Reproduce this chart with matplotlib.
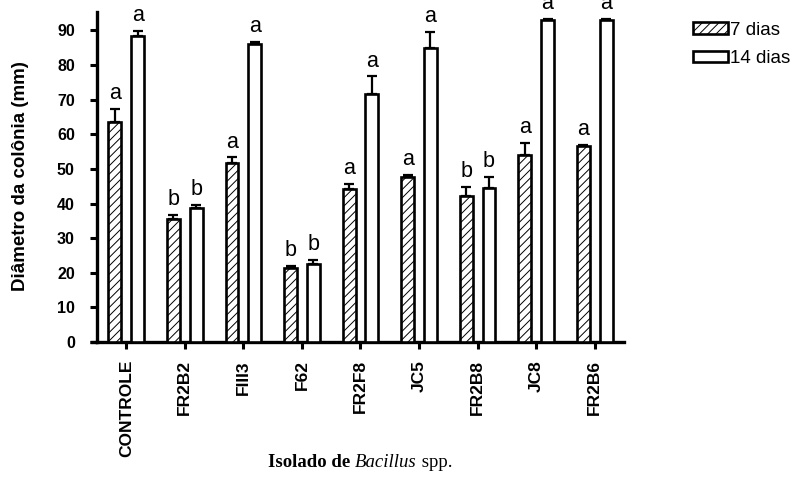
import numpy as np
import matplotlib
matplotlib.use('Agg')
import matplotlib.pyplot as plt

# colony diameter (mm)
isolados = ['CONTROLE', 'FR2B2', 'FIII3', 'F62', 'FR2F8', 'JC5', 'FR2B8', 'JC8', 'FR2B6']
dias7 = [63.6, 35.6, 51.6, 21.4, 44.1, 47.7, 42.3, 54.0, 56.5]
err7 = [3.6, 1.2, 1.7, 0.5, 1.5, 0.5, 2.6, 3.6, 0.3]
dias14 = [88.3, 38.7, 86.2, 22.5, 71.7, 84.9, 44.4, 93.1, 92.9]
err14 = [1.6, 1.0, 0.5, 1.3, 5.0, 4.7, 3.3, 0.3, 0.4]
letras7 = ['a', 'b', 'a', 'b', 'a', 'a', 'b', 'a', 'a']
letras14 = ['a', 'b', 'a', 'b', 'a', 'a', 'b', 'a', 'a']

plt.rcParams['font.family'] = 'Liberation Sans'
plt.rcParams['hatch.linewidth'] = 0.7

fig = plt.figure(figsize=(8.07, 4.79), dpi=100)
ax = fig.add_axes([0.1202, 0.286, 0.653, 0.6896])

x = np.arange(len(isolados))
w = 0.22
d = 0.195
lw = 1.9

ax.bar(x - d, dias7, w, color='white', edgecolor='black', hatch='////',
       linewidth=lw, label='7 dias', zorder=3)
ax.bar(x + d, dias14, w, color='white', edgecolor='black',
       linewidth=lw, label='14 dias', zorder=3)

ax.errorbar(x - d, dias7, yerr=[np.zeros(len(x)), err7], fmt='none',
            ecolor='black', elinewidth=1.6, capsize=3.5, capthick=1.6, zorder=2)
ax.errorbar(x + d, dias14, yerr=[np.zeros(len(x)), err14], fmt='none',
            ecolor='black', elinewidth=1.6, capsize=3.5, capthick=1.6, zorder=2)

for i in range(len(x)):
    ax.annotate(letras7[i], (x[i] - d, dias7[i] + err7[i]), xytext=(0, 3.5),
                textcoords='offset points', ha='center', va='bottom',
                fontsize=15.5, annotation_clip=False)
    ax.annotate(letras14[i], (x[i] + d, dias14[i] + err14[i]), xytext=(0, 3.5),
                textcoords='offset points', ha='center', va='bottom',
                fontsize=15.5, annotation_clip=False)

ax.set_xlim(-0.5, 8.5)
ax.set_ylim(0, 95.4)
ax.set_yticks(np.arange(0, 100, 10))
ax.set_xticks(x)
ax.set_xticklabels(isolados, rotation=90, fontweight='bold', fontsize=12.5)
for t in ax.get_yticklabels():
    t.set_fontweight('bold')
    t.set_fontsize(11.5)

for s in ['top', 'right']:
    ax.spines[s].set_visible(False)
for s in ['left', 'bottom']:
    ax.spines[s].set_linewidth(2.4)
ax.tick_params(axis='both', direction='out', length=5, width=2.2)
ax.tick_params(axis='y', pad=11)
ax.tick_params(axis='x', pad=8)
# x axis line runs on past the y axis, as far as the y ticks
ax.plot([-0.5 - 0.125, -0.5], [0, 0], color='black', lw=2.4, clip_on=False,
        solid_capstyle='butt')

fig.text(21 / 807, 0.6315, 'Diâmetro da colônia (mm)', rotation=90, ha='center',
         va='center', fontweight='bold', fontsize=13.5)

ax.legend(loc='upper left', bbox_to_anchor=(0.8587, 0.955), bbox_transform=fig.transFigure,
          frameon=False, fontsize=13.5, handlelength=1.85, handleheight=0.55,
          handletextpad=0.12, labelspacing=0.6, borderpad=0, borderaxespad=0)

# x label with mixed styles
fig.canvas.draw()
r = fig.canvas.get_renderer()
partes = [('Isolado de ', 'bold', 'normal'), ('Bacillus', 'normal', 'italic'), (' spp.', 'normal', 'normal')]
textos = [fig.text(0, 0.025, p, family='Liberation Serif', fontsize=13.5, fontweight=fw,
                   fontstyle=fs, va='baseline') for p, fw, fs in partes]
larg = [t.get_window_extent(r).width for t in textos]
x0 = 360 - sum(larg) / 2
for t, l in zip(textos, larg):
    t.set_x(x0 / 807)
    x0 += l

fig.savefig('out.png', dpi=100)
